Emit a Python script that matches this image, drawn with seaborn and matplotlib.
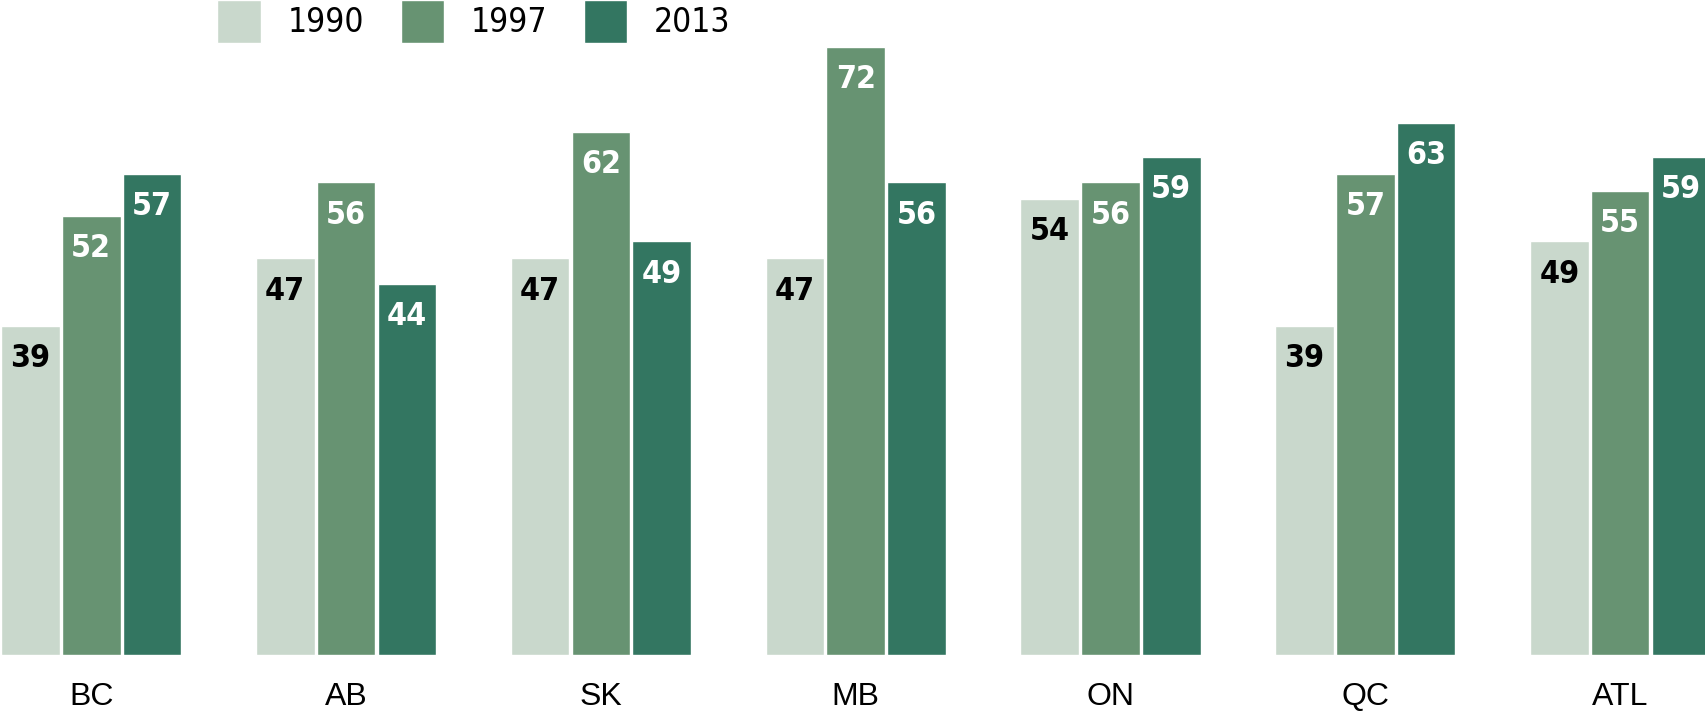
import matplotlib
matplotlib.use("Agg")
import matplotlib.pyplot as plt
import pandas as pd
import seaborn as sns

# data
regions = ["BC", "AB", "SK", "MB", "ON", "QC", "ATL"]
years = ["1990", "1997", "2013"]
v1990 = [39, 47, 47, 47, 54, 39, 49]
v1997 = [52, 56, 62, 72, 56, 57, 55]
v2013 = [57, 44, 49, 56, 59, 63, 59]
colors = ["#c9d8cc", "#679372", "#337661"]
label_colors = ["black", "white", "white"]

df = pd.DataFrame({
    "region": regions * 3,
    "year": [y for y in years for _ in regions],
    "value": v1990 + v1997 + v2013,
})

sns.set_theme(style="white")
plt.rcParams["font.family"] = ["DejaVu Sans"]
plt.rcParams["font.stretch"] = "condensed"
plt.rcParams["text.color"] = "black"

fig = plt.figure(figsize=(17.05, 7.15), dpi=100)
ax = fig.add_axes([0, 0.0836, 1, 0.9164])

sns.barplot(data=df, x="region", y="value", hue="year", order=regions,
            hue_order=years, palette=colors, width=0.716, gap=0.035,
            saturation=1, ax=ax, legend=True)

# value labels inside the bars near the top
for cont, lc in zip(ax.containers, label_colors):
    for bar in cont:
        h = bar.get_height()
        ax.annotate(f"{h:.0f}", (bar.get_x() + bar.get_width() / 2, h),
                    xytext=(0, -23.5), textcoords="offset points",
                    ha="center", va="center", color=lc,
                    fontsize=23, fontweight="bold")

ax.set_xlim(-0.358, 6.333)
ax.set_ylim(0, 77.6)
ax.set_xlabel("")
ax.set_ylabel("")
ax.set_yticks([])
ax.tick_params(axis="x", length=0, pad=19, colors="black")
for lab in ax.get_xticklabels():
    lab.set_fontfamily(["Liberation Sans", "DejaVu Sans"])
    lab.set_fontstretch("normal")
    lab.set_fontsize(23)
sns.despine(ax=ax, left=True, bottom=True, top=True, right=True)

handles, labels = ax.get_legend_handles_labels()
ax.get_legend().remove()
fig.legend(handles, labels, loc="upper left", bbox_to_anchor=(0.1275, 1.0),
           ncol=3, frameon=False, fontsize=24, handlelength=1.3,
           handleheight=1.6, handletextpad=0.8, columnspacing=1.1,
           borderpad=0, borderaxespad=0, labelcolor="black")

fig.savefig("out.png", dpi=100)
